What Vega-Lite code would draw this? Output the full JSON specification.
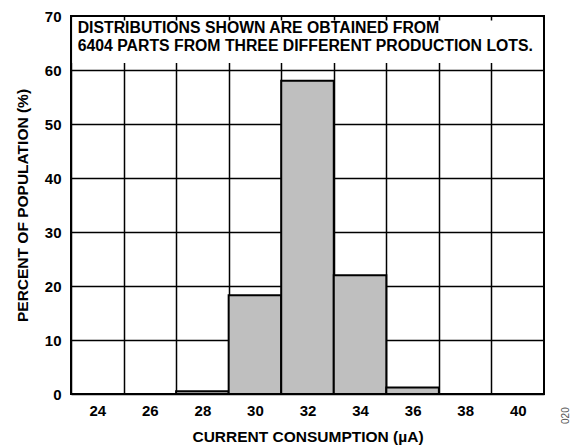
{
  "$schema": "https://vega.github.io/schema/vega-lite/v6.json",
  "width": 473,
  "height": 378,
  "autosize": {"type": "none"},
  "padding": {"left": 71, "top": 16, "right": 37, "bottom": 54},
  "background": "white",
  "config": {
    "view": {"stroke": null},
    "font": "Liberation Sans",
    "axis": {"labelFont": "Liberation Sans", "titleFont": "Liberation Sans", "labelFontWeight": "bold", "titleFontWeight": "bold", "labelColor": "black", "titleColor": "black", "labelFontSize": 15, "titleFontSize": 15.5}
  },
  "datasets": {
    "bins": [
      {"lo": 27, "hi": 29, "pct": 0.5},
      {"lo": 29, "hi": 31, "pct": 18.3},
      {"lo": 31, "hi": 33, "pct": 58},
      {"lo": 33, "hi": 35, "pct": 22},
      {"lo": 35, "hi": 37, "pct": 1.2}
    ],
    "one": [{}]
  },
  "layer": [
    {
      "data": {"name": "bins"},
      "mark": {"type": "rect", "fill": "#bfbfbf", "stroke": "black", "strokeWidth": 2},
      "encoding": {
        "x": {"field": "lo", "type": "quantitative", "scale": {"domain": [23, 41], "nice": false, "zero": false},
          "axis": {"orient": "bottom", "values": [23, 25, 27, 29, 31, 33, 35, 37, 39], "labelExpr": "datum.value + 1", "labelOffset": 26.3, "labelFlush": false, "labelOverlap": false, "grid": true, "gridColor": "black", "gridWidth": 1.5, "gridOpacity": 1, "ticks": false, "domain": false, "labelPadding": 9, "title": "CURRENT CONSUMPTION (µA)", "titlePadding": 11}},
        "x2": {"field": "hi"},
        "y": {"field": "pct", "type": "quantitative", "scale": {"domain": [0, 70], "nice": false},
          "axis": {"values": [0, 10, 20, 30, 40, 50, 60, 70], "grid": true, "gridColor": "black", "gridWidth": 1.5, "gridOpacity": 1, "ticks": false, "domain": false, "labelPadding": 10, "title": "PERCENT OF POPULATION (%)", "titlePadding": 14}},
        "y2": {"datum": 0}
      }
    },
    {
      "data": {"name": "one"},
      "mark": {"type": "rect", "fill": "white", "stroke": null},
      "encoding": {
        "x": {"datum": 23.05, "type": "quantitative", "axis": {"orient": "top", "values": [25, 27, 29, 31, 33, 35, 37, 39], "grid": false, "labels": false, "domain": false, "ticks": true, "tickSize": -4, "tickColor": "black", "tickWidth": 1.5, "title": null, "zindex": 3}},
        "x2": {"datum": 40.95},
        "y": {"datum": 61.3, "type": "quantitative"},
        "y2": {"datum": 69.9}
      }
    },
    {
      "data": {"name": "one"},
      "mark": {"type": "text", "align": "left", "baseline": "middle", "fontSize": 15.8, "fontWeight": "bold", "lineHeight": 18, "color": "black", "font": "Liberation Sans"},
      "encoding": {
        "x": {"datum": 23.255, "type": "quantitative", "axis": null},
        "y": {"datum": 67.7, "type": "quantitative"},
        "text": {"value": ["DISTRIBUTIONS SHOWN ARE OBTAINED FROM", "6404 PARTS FROM THREE DIFFERENT PRODUCTION LOTS."]}
      }
    },
    {
      "data": {"name": "one"},
      "mark": {"type": "rect", "fill": null, "stroke": "black", "strokeWidth": 2},
      "encoding": {
        "x": {"datum": 23, "type": "quantitative", "axis": null},
        "x2": {"datum": 41},
        "y": {"datum": 0, "type": "quantitative"},
        "y2": {"datum": 70}
      }
    },
    {
      "data": {"name": "one"},
      "mark": {"type": "text", "angle": 270, "fontSize": 10, "color": "#555555", "font": "Liberation Sans", "align": "center", "baseline": "middle", "clip": false},
      "encoding": {
        "x": {"datum": 41.84, "type": "quantitative", "axis": null},
        "y": {"datum": -4.0, "type": "quantitative"},
        "text": {"value": "020"}
      }
    }
  ],
  "resolve": {"axis": {"x": "independent"}}
}
